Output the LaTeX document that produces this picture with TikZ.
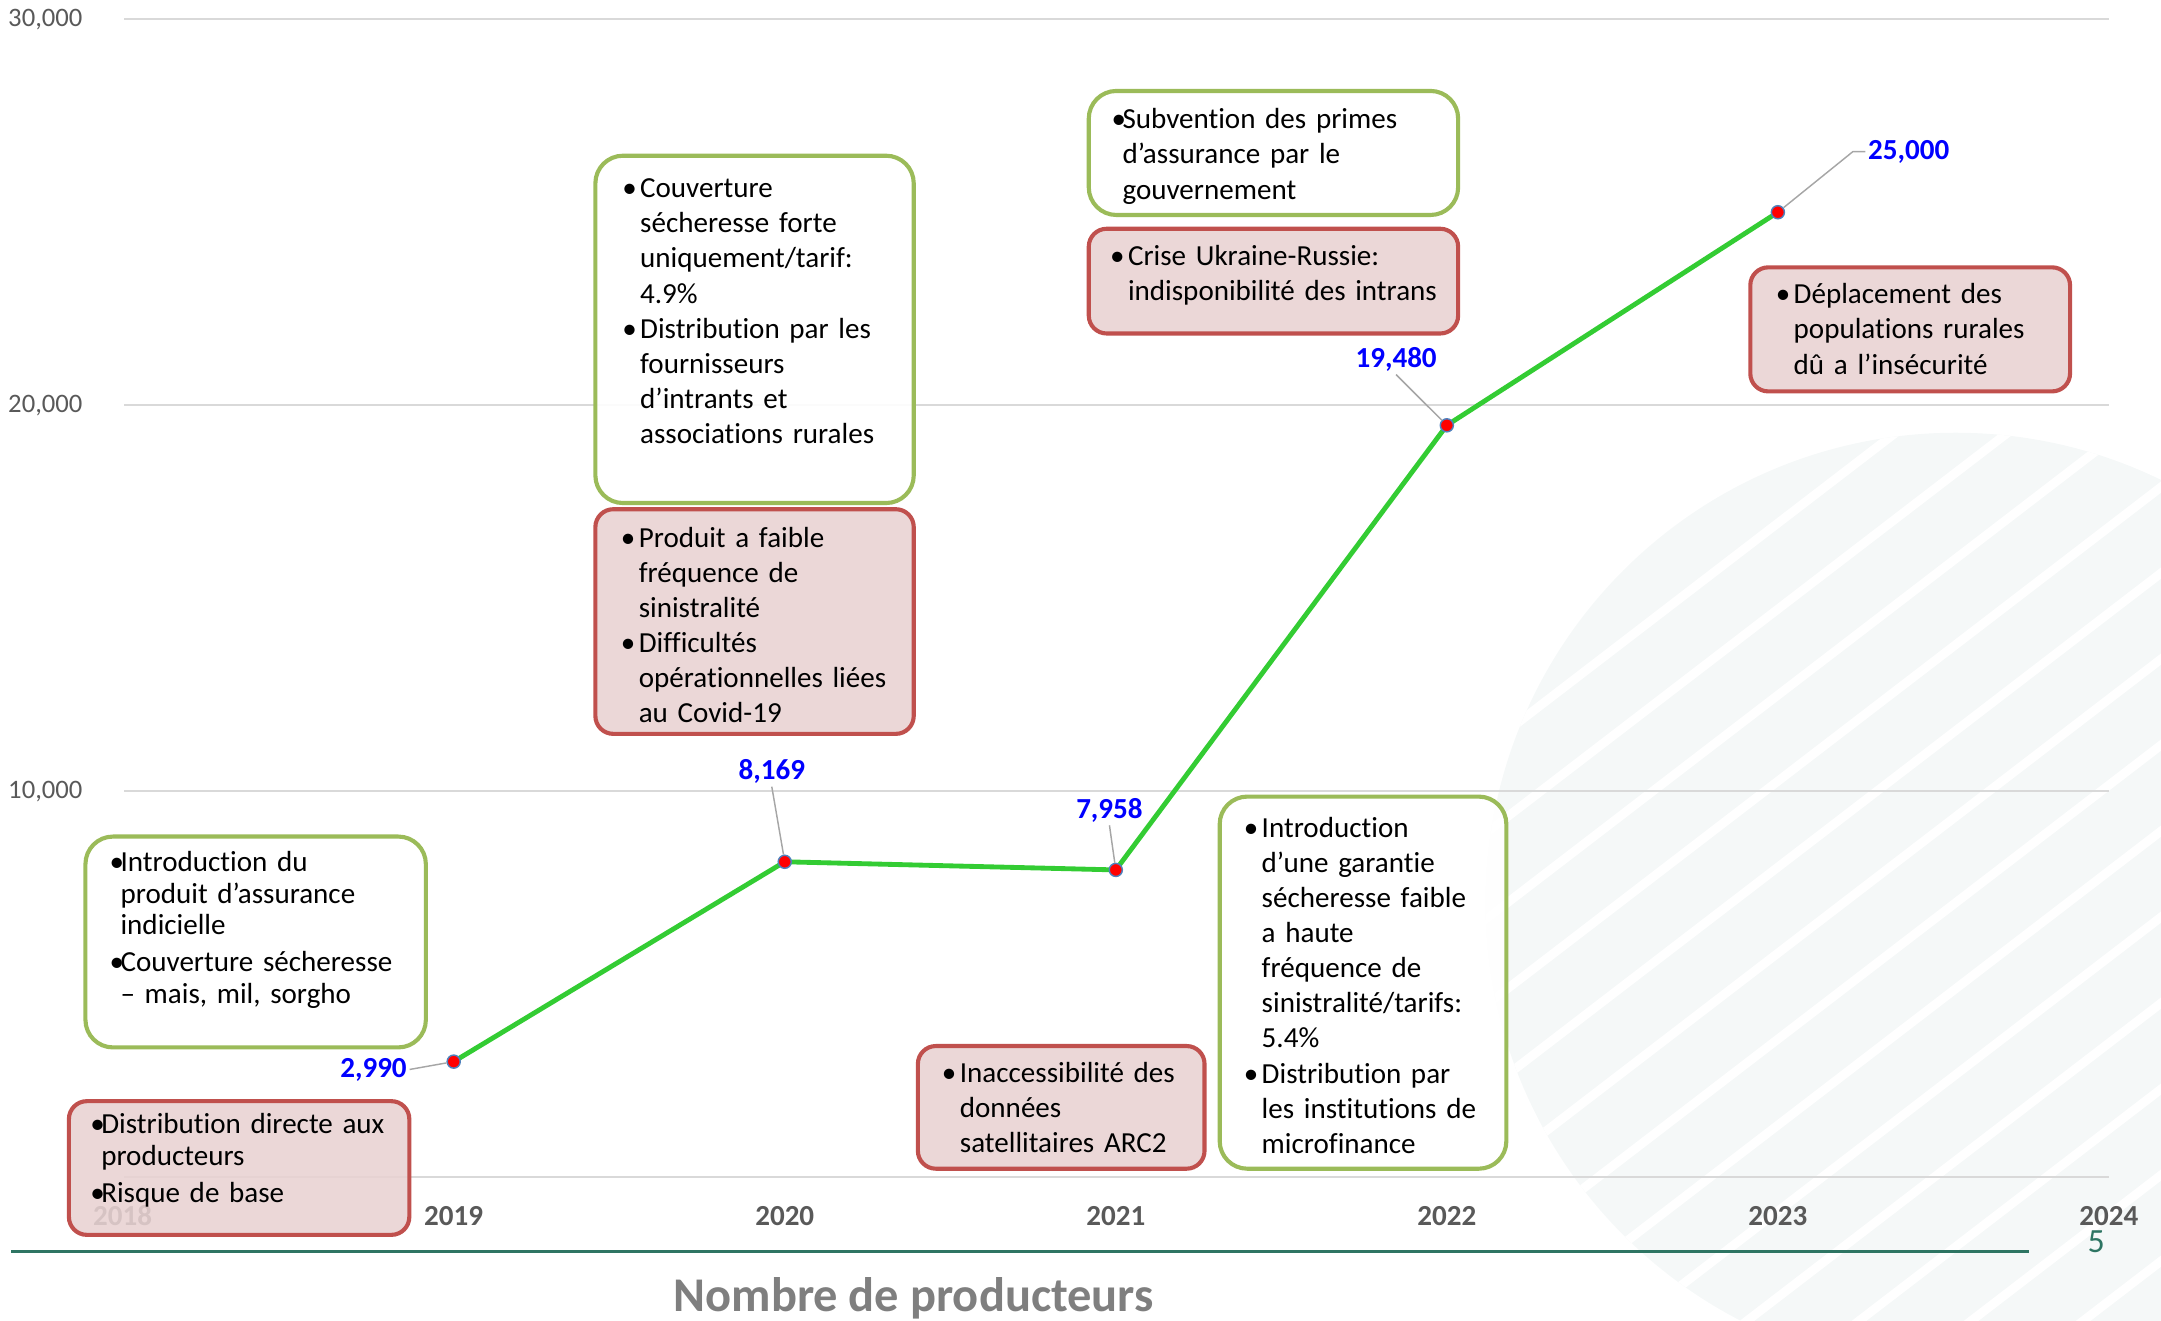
\documentclass[tikz,border=0pt]{standalone}
\usepackage{fontspec}
\setmainfont{Carlito}[Ligatures=NoCommon]
\usetikzlibrary{positioning}

\definecolor{gainline}{HTML}{9BBB59}
\definecolor{riskline}{HTML}{C0504D}
\definecolor{riskfill}{HTML}{E8D2D2}
\definecolor{trendgreen}{HTML}{33CC33}
\definecolor{valblue}{HTML}{0000FF}
\definecolor{dotring}{HTML}{4F81BD}
\definecolor{axisgray}{HTML}{595959}
\definecolor{gridgray}{HTML}{D9D9D9}
\definecolor{leadgray}{HTML}{A6A6A6}
\definecolor{titlegray}{HTML}{7F7F7F}
\definecolor{footteal}{HTML}{2E7563}
\definecolor{discgray}{HTML}{F5F8F8}

% bullets: spaced and tight
\newcommand{\bpt}{\makebox[2.6mm][l]{•}}
\newcommand{\bcont}{\hspace*{2.6mm}}
\newcommand{\tpt}{\makebox[1.6mm][l]{•}}
\newcommand{\tcont}{\hspace*{1.6mm}}

\tikzset{
  gainbox/.style={draw=gainline, fill=white, fill opacity=0.9, text opacity=1,
    line width=1.7pt, rounded corners=4mm, inner sep=0pt, align=left,
    anchor=north west, font=\fontsize{12}{14.5}\selectfont},
  riskbox/.style={gainbox, draw=riskline, fill=riskfill, fill opacity=0.88,
    rounded corners=2.6mm},
  tight/.style={font=\fontsize{12}{13}\selectfont},
  lpad/.style={execute at begin node={\leftskip=#1}},
  val/.style={text=valblue, font=\bfseries\fontsize{12}{14}\selectfont, inner sep=1pt},
  tick/.style={text=axisgray, font=\fontsize{11}{13}\selectfont, anchor=east},
  yr/.style={text=axisgray, font=\bfseries\fontsize{12}{14}\selectfont},
  grid/.style={gridgray, line width=0.7pt},
  trend/.style={trendgreen, line width=2pt, line join=round},
  dot/.style={circle, fill=red, draw=dotring, line width=0.6pt, minimum size=1.9mm, inner sep=0pt},
  leader/.style={leadgray, line width=0.6pt},
}

\begin{document}
\begin{tikzpicture}[x=0.2mm, y=-0.2mm]
    \useasboundingbox (0,0) rectangle (1568,958.5);

    % faint background disc
    \begin{scope}
        \clip (0,0) rectangle (1568,958.5);
        \clip (1419,655) circle[radius=68.2mm];
        \fill[discgray] (1419,655) circle[radius=68.2mm];
        \foreach \k in {-9,...,9}
            \draw[white, line width=1.3mm] ({1419+30.1*\k-400}, {655+39.3*\k+307}) -- ++(800,-614);
    \end{scope}

    % grid and axes
    \draw[grid] (90,14) -- (1530,14);
    \draw[grid] (90,294) -- (1530,294);
    \draw[grid] (90,574) -- (1530,574);
    \draw[grid] (90,854) -- (1530,854);
    \node[tick] (t30) at (66,14) {30,000};
    \node[tick] (t20) at (66,294) {20,000};
    \node[tick] (t10) at (66,574) {10,000};

    \node[yr] (x2018) at (89,882) {2018};
    \node[yr] (x2019) at (329.2,882) {2019};
    \node[yr] (x2020) at (569.4,882) {2020};
    \node[yr] (x2021) at (809.6,882) {2021};
    \node[yr] (x2022) at (1049.8,882) {2022};
    \node[yr] (x2023) at (1290,882) {2023};
    \node[yr] (x2024) at (1530.2,882) {2024};

    \draw[footteal, line width=1.4pt] (8,908) -- (1472,908);
    \node[text=footteal, font=\fontsize{14}{16}\selectfont] (pgnum) at (1521,901) {5};
    \node[text=titlegray, font=\bfseries\fontsize{20}{24}\selectfont] (title) at (663,942) {Nombre de producteurs};

    % data
    \coordinate (d19) at (329.2,770.3);
    \coordinate (d20) at (569.4,625.3);
    \coordinate (d21) at (809.6,631.2);
    \coordinate (d22) at (1049.8,308.6);
    \coordinate (d23) at (1290,154);
    \draw[trend] (d19) -- (d20) -- (d21) -- (d22) -- (d23);
    \node[dot] (v19) at (d19) {};
    \node[dot] (v20) at (d20) {};
    \node[dot] (v21) at (d21) {};
    \node[dot] (v22) at (d22) {};
    \node[dot] (v23) at (d23) {};

    \node[val] (l19) at (271,776) {2,990};
    \node[val] (l20) at (560,560) {8,169};
    \node[val] (l21) at (805,588) {7,958};
    \node[val] (l22) at (1013,261) {19,480};
    \node[val] (l23) at (1385,110) {25,000};
    \draw[leader] (l19.east) -- (v19);
    \draw[leader] (l20.south) -- (v20);
    \draw[leader] (l21.south) -- (v21);
    \draw[leader] (l22.south) -- (v22);
    \draw[leader] (l23.west) -- ++(-9,0) -- (v23);

    % boxes
    \node[gainbox, tight, text width=49.4mm, text height=5.1mm, text depth=25.5mm, lpad=3.5mm] (intro) at (60.5,605.5)
        {\tpt Introduction du\\ \tcont produit d’assurance\\ \tcont indicielle\\[2.3pt]
         \tpt Couverture sécheresse\\ \tcont – mais, mil, sorgho};
    \node[riskbox, tight, text width=49.4mm, text height=4.7mm, text depth=14.7mm, lpad=3.1mm] (direct) at (48.5,797.5)
        {\tpt Distribution directe aux\\ \tcont producteurs\\[2.3pt] \tpt Risque de base};

    \node[gainbox, text width=46.2mm, text height=6.1mm, text depth=44.3mm, lpad=3.9mm] (cover) at (430.5,111.5)
        {\bpt Couverture\\ \bcont sécheresse forte\\ \bcont uniquement/tarif:\\ \bcont 4.9\%\\
         \bpt Distribution par les\\ \bcont fournisseurs\\ \bcont d’intrants et\\ \bcont associations rurales};
    \node[riskbox, text width=46.2mm, text height=5.5mm, text depth=27.1mm, lpad=3.7mm,
          below right=0.3mm and 0mm of cover.south west] (covid)
        {\bpt Produit a faible\\ \bcont fréquence de\\ \bcont sinistralité\\
         \bpt Difficultés\\ \bcont opérationnelles liées\\ \bcont au Covid-19};

    \node[riskbox, text width=41.6mm, text height=5.3mm, text depth=12.5mm, lpad=3.5mm] (arc) at (664.5,757.5)
        {\bpt Inaccessibilité des\\ \bcont données\\ \bcont satellitaires ARC2};

    \node[gainbox, text width=53.6mm, text height=5.5mm, text depth=12.5mm, lpad=3.3mm] (subv) at (788.5,64.5)
        {\tpt Subvention des primes\\ \tcont d’assurance par le\\ \tcont gouvernement};
    \node[riskbox, text width=53.6mm, text height=5.3mm, text depth=9.9mm, lpad=3.1mm,
          below right=1.4mm and 0mm of subv.south west] (crise)
        {\bpt Crise Ukraine-Russie:\\ \bcont indisponibilité des intrans};

    \node[gainbox, text width=41.6mm, text height=5.9mm, text depth=48.1mm, lpad=3.5mm] (garantie) at (883.5,576.5)
        {\bpt Introduction\\ \bcont d’une garantie\\ \bcont sécheresse faible\\ \bcont a haute\\
         \bcont fréquence de\\ \bcont sinistralité/tarifs:\\ \bcont 5.4\%\\
         \bpt Distribution par\\ \bcont les institutions de\\ \bcont microfinance};

    \node[riskbox, text width=46.4mm, text height=5.3mm, text depth=12.7mm, lpad=3.7mm] (depl) at (1268.5,192.5)
        {\bpt Déplacement des\\ \bcont populations rurales\\ \bcont dû a l’insécurité};
\end{tikzpicture}
\end{document}
